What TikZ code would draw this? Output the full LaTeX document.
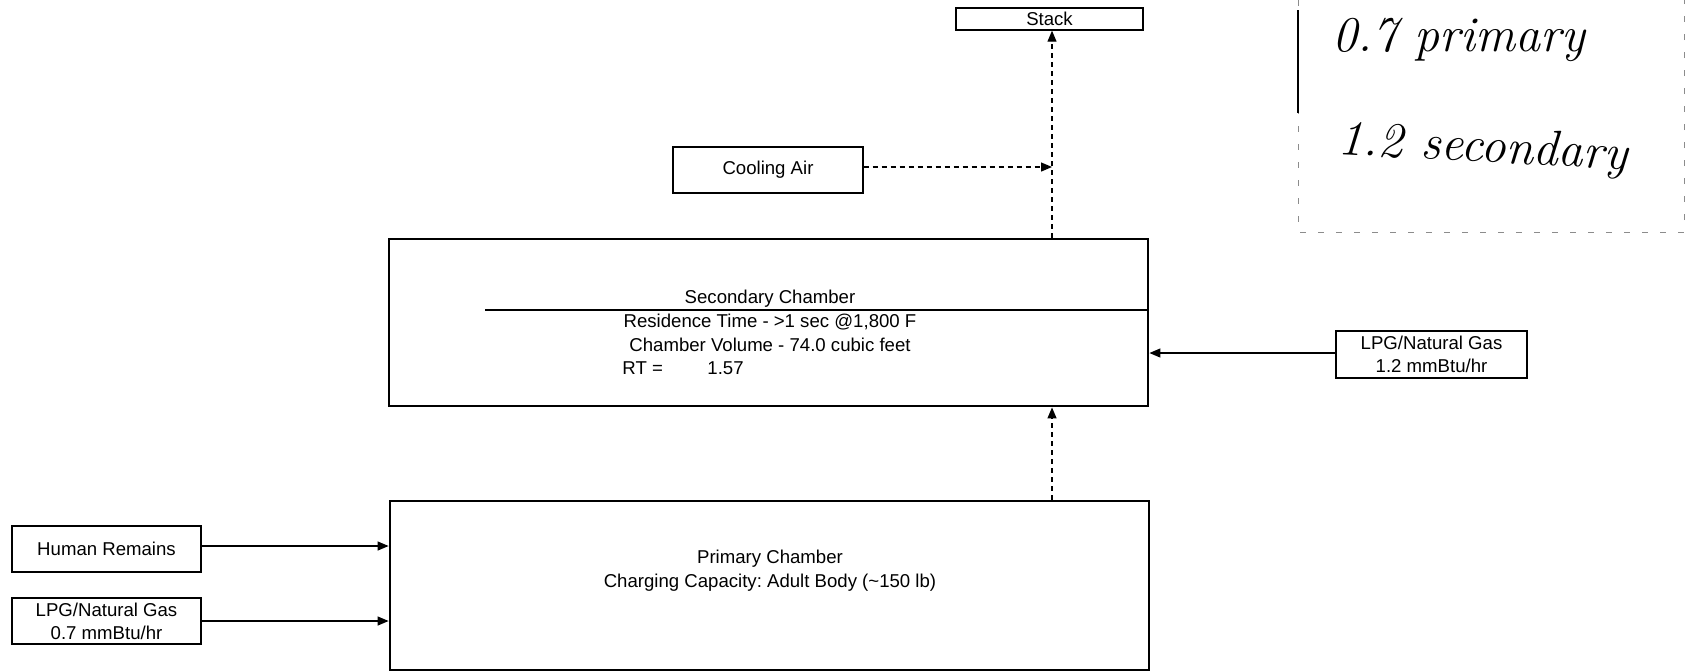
\documentclass[tikz,border=0pt]{standalone}
\usepackage{fontspec}
\newfontfamily\arialfont{Liberation Sans}
\usepackage{tikz}
\usetikzlibrary{arrows.meta}

\begin{document}
\frenchspacing
\begin{tikzpicture}[x=0.5pt,y=-0.5pt,>={Triangle[length=5.5pt,width=4.5pt]},
  txt/.style={inner sep=0pt,font=\arialfont\fontsize{9.3}{11.6}\selectfont},
  inbox/.style={txt,draw,line width=0.7pt,align=center},
  chamber/.style={draw,line width=1.4pt,inner sep=0pt},
  feed/.style={->,line width=0.6pt},
  flue/.style={->,line width=0.6pt,dash pattern=on 2.5pt off 2pt},
  hand/.style={inner sep=0pt,font=\itshape\fontsize{25}{28}\selectfont},
  notefr/.style={black!45,line width=0.5pt,dash pattern=on 3pt off 6pt}]
  \useasboundingbox (0,0) rectangle (1689,671);
  % boxes
  \node[inbox,minimum width=93.5pt,minimum height=11pt] (stack) at (1049.5,19) {Stack};
  \node[inbox,minimum width=95pt,minimum height=23pt] (cooling) at (768,170) {Cooling Air};
  \node[chamber,minimum width=379.5pt,minimum height=83.5pt] (secondary) at (768.5,322.5) {};
  \node[chamber,minimum width=379.5pt,minimum height=84.5pt] (primary) at (769.5,585.5) {};
  \node[inbox,minimum width=95.5pt,minimum height=23.5pt] (lpgsec) at (1431.5,354.5) {LPG/Natural Gas\\1.2 mmBtu/hr};
  \node[inbox,minimum width=94.5pt,minimum height=23pt] (remains) at (106.5,549) {Human Remains};
  \node[inbox,minimum width=94.5pt,minimum height=23pt] (lpgpri) at (106.5,621) {LPG/Natural Gas\\0.7 mmBtu/hr};
  % chamber texts
  \node[txt] (sectitle) at (770,299) {Secondary Chamber};
  \node[txt] (secres) at (770,322) {Residence Time - >1 sec @1,800 F};
  \node[txt] (secvol) at (770,345) {Chamber Volume - 74.0 cubic feet};
  \node[txt,anchor=west] (secrt) at (622,368) {RT =};
  \node[txt,anchor=west] (secrtval) at (707,368) {1.57};
  \node[txt] (prititle) at (770,559) {Primary Chamber};
  \node[txt] (pricap) at (770,583) {Charging Capacity: Adult Body (\textasciitilde150 lb)};
  \coordinate (divl) at (485,310);
  \draw[line width=0.7pt] (divl) -- (divl -| secondary.east);
  % connectors
  \coordinate (riser) at (1052,0);
  \draw[feed] (remains.east |- 0,546) -- (primary.west |- 0,546);
  \draw[feed] (lpgpri.east) -- (lpgpri.east -| primary.west);
  \draw[feed] (lpgsec.west |- 0,353) -- (secondary.east |- 0,353);
  \draw[flue] (primary.north -| riser) -- (secondary.south -| riser);
  \draw[flue] (secondary.north -| riser) -- (stack.south -| riser);
  \draw[flue] (cooling.east |- 0,167) -- (riser |- 0,167);
  % handwritten note
  \draw[notefr] (1298,0) -- (1298,232) -- (1684,232) -- (1684,0);
  \draw[line width=0.8pt] (1298,10) -- (1298,113);
  \node[hand,anchor=west] (note1) at (1332,40) {0.7 primary};
  \node[hand,anchor=west,rotate=-3] (note2) at (1338,142) {1.2 secondary};
\end{tikzpicture}
\end{document}
